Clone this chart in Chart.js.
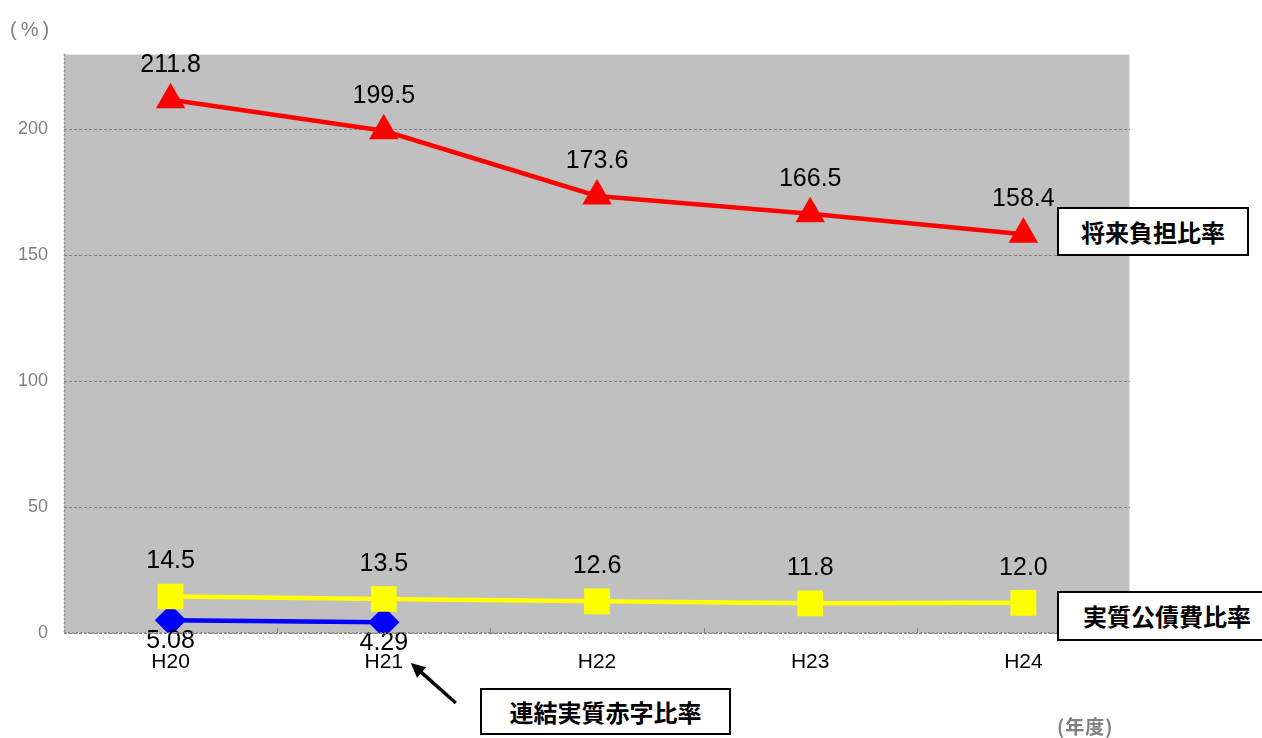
<!DOCTYPE html>
<html>
<head>
<meta charset="utf-8">
<script src="https://cdn.jsdelivr.net/npm/chart.js@4"></script>
<style>
  html, body { margin: 0; padding: 0; background: #fff; overflow: hidden; }
  #wrap { position: relative; width: 1262px; height: 738px; overflow: hidden; }
  canvas { position: absolute; left: 0; top: 0; }
  .box { position: absolute; background: #fff; border: 2px solid #000; box-sizing: border-box;
         font-family: "Noto Sans CJK JP", sans-serif; font-weight: 700; font-size: 24px; color: #000;
         display: flex; align-items: center; line-height: 1; }
  .txt { position: absolute; font-family: "Noto Sans CJK JP", "Liberation Sans", sans-serif; color: #808080; line-height: 1; white-space: nowrap; }
</style>
</head>
<body>
<div id="wrap">
  <canvas id="c" width="1262" height="738"></canvas>
  <div class="txt" style="left:10px; top:19px; font-size:20px; letter-spacing:4px; font-family:'Liberation Sans',sans-serif;">(%)</div>
  <div class="txt" style="left:1057px; top:716px; font-size:19px; font-weight:700; letter-spacing:1px;">(年度)</div>
  <div class="box" style="left:1057px; top:207px; width:192px; height:49px; justify-content:center;">将来負担比率</div>
  <div class="box" style="left:1057px; top:591px; width:230px; height:50px; padding-left:24px;">実質公債費比率</div>
  <div class="box" style="left:480px; top:688px; width:251px; height:47px; justify-content:center;">連結実質赤字比率</div>
</div>
<script>
const categories = ["H20", "H21", "H22", "H23", "H24"];
const futureBurden = [211.8, 199.5, 173.6, 166.5, 158.4];      // 将来負担比率
const realDebtService = [14.5, 13.5, 12.6, 11.8, 12.0];        // 実質公債費比率
const consolidatedDeficit = [5.08, 4.29, null, null, null];    // 連結実質赤字比率
const yTicks = [0, 50, 100, 150, 200];
const labelDecimals = [1, 1, 2];

const plotBg = {
  id: 'plotBg',
  beforeDraw(chart) {
    const {ctx, chartArea: a} = chart;
    ctx.save();
    ctx.fillStyle = '#c0c0c0';
    ctx.fillRect(a.left, a.top, a.right - a.left, a.bottom - a.top);
    ctx.strokeStyle = '#e4e4e4';
    ctx.lineWidth = 1;
    ctx.beginPath();
    ctx.moveTo(a.left, a.top + 0.5); ctx.lineTo(a.right - 0.5, a.top + 0.5); ctx.lineTo(a.right - 0.5, a.bottom);
    ctx.stroke();
    ctx.restore();
  },
  afterDraw(chart) {
    const {ctx, chartArea: a} = chart;
    const xs = chart.scales.x;
    ctx.save();
    ctx.strokeStyle = '#8a8a8a';
    ctx.lineWidth = 1.5;
    ctx.setLineDash([2, 2]);
    ctx.beginPath();
    ctx.moveTo(a.left + 0.5, a.top); ctx.lineTo(a.left + 0.5, a.bottom);
    ctx.moveTo(a.left, a.bottom); ctx.lineTo(a.right, a.bottom);
    ctx.stroke();
    ctx.setLineDash([]);
    ctx.lineWidth = 1;
    ctx.strokeStyle = '#808080';
    ctx.beginPath();
    for (let i = 0; i < categories.length - 1; i++) {
      const bx = Math.round((xs.getPixelForValue(i) + xs.getPixelForValue(i + 1)) / 2) + 0.5;
      ctx.moveTo(bx, a.bottom); ctx.lineTo(bx, a.bottom - 5);
    }
    ctx.stroke();
    // arrow pointing at H21 label
    const hx = xs.getPixelForValue(1) + 27, hy = a.bottom + 30;
    const tx = hx + 45, ty = hy + 40;
    ctx.strokeStyle = '#000'; ctx.fillStyle = '#000'; ctx.lineWidth = 3.5;
    const ang = Math.atan2(hy - ty, hx - tx);
    ctx.beginPath();
    ctx.moveTo(tx, ty);
    ctx.lineTo(hx - Math.cos(ang) * 10, hy - Math.sin(ang) * 10);
    ctx.stroke();
    ctx.beginPath();
    ctx.moveTo(hx, hy);
    ctx.lineTo(hx - Math.cos(ang - 0.45) * 16, hy - Math.sin(ang - 0.45) * 16);
    ctx.lineTo(hx - Math.cos(ang + 0.45) * 16, hy - Math.sin(ang + 0.45) * 16);
    ctx.closePath();
    ctx.fill();
    ctx.restore();
  }
};

const valueLabels = {
  id: 'valueLabels',
  afterDatasetsDraw(chart) {
    const {ctx} = chart;
    ctx.save();
    ctx.font = '25px "Liberation Sans", Arial, sans-serif';
    ctx.fillStyle = '#000';
    ctx.textAlign = 'center';
    ctx.textBaseline = 'alphabetic';
    chart.data.datasets.forEach((ds, di) => {
      const meta = chart.getDatasetMeta(di);
      meta.data.forEach((pt, i) => {
        const v = ds.data[i];
        if (v === null || v === undefined) return;
        const below = ds.labelBelow;
        const y = below ? pt.y + 28 : pt.y - 28;
        ctx.fillText(v.toFixed(labelDecimals[di]), pt.x, y);
      });
    });
    ctx.restore();
  }
};

new Chart(document.getElementById('c'), {
  type: 'line',
  data: {
    labels: categories,
    datasets: [
      { label: '将来負担比率', data: futureBurden, borderColor: '#ff0000', backgroundColor: '#ff0000',
        borderWidth: 4.5, pointStyle: 'triangle', pointRadius: 12.5, pointHoverRadius: 12.5, tension: 0 },
      { label: '実質公債費比率', data: realDebtService, borderColor: '#ffff00', backgroundColor: '#ffff00',
        borderWidth: 4.5, pointStyle: 'rect', pointRadius: 15, pointHoverRadius: 15, tension: 0 },
      { label: '連結実質赤字比率', data: consolidatedDeficit, borderColor: '#0000ff', backgroundColor: '#0000ff',
        borderWidth: 4.5, pointStyle: 'rectRot', pointRadius: 12.5, pointHoverRadius: 12.5, tension: 0, labelBelow: true }
    ]
  },
  options: {
    responsive: false,
    animation: false,
    devicePixelRatio: 1,
    layout: { padding: { top: 54, right: 132, left: 0, bottom: 0 } },
    plugins: { legend: { display: false }, tooltip: { enabled: false } },
    scales: {
      x: {
        offset: true,
        grid: { display: false, drawTicks: false },
        border: { display: false },
        ticks: { color: '#000', font: { size: 21, family: '"Liberation Sans", Arial, sans-serif' }, padding: 17 },
        afterFit(s) { s.height = 105; }
      },
      y: {
        min: 0, max: 230,
        afterBuildTicks(s) { s.ticks = yTicks.map(v => ({ value: v })); },
        grid: { color: '#808080', lineWidth: 1, drawTicks: false },
        border: { display: false, dash: [3, 2] },
        ticks: { color: '#808080', font: { size: 18, family: '"Liberation Sans", Arial, sans-serif' }, padding: 16 },
        afterFit(s) { s.width = 64; }
      }
    }
  },
  plugins: [plotBg, valueLabels]
});
</script>
</body>
</html>
